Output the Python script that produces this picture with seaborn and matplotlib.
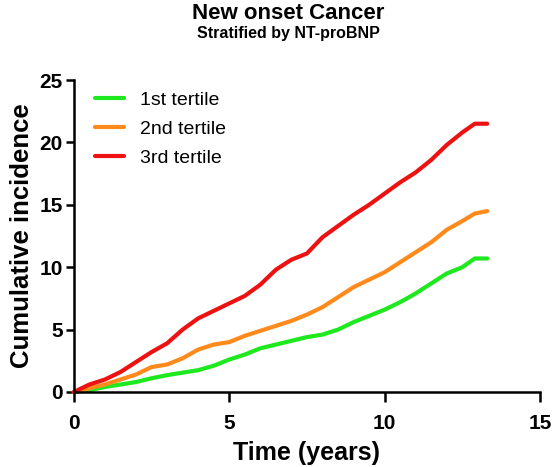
import pandas as pd
import matplotlib.pyplot as plt
import seaborn as sns

# tiempos (años) y incidencia acumulada
tiempo = [0, 0.5, 1, 1.5, 2, 2.5, 3, 3.5, 4, 4.5, 5, 5.5, 6, 6.5, 7, 7.5,
          8, 8.5, 9, 9.5, 10, 10.5, 11, 11.5, 12, 12.5, 12.9, 13.3]
tercil1 = [0, 0.15, 0.4, 0.6, 0.8, 1.1, 1.35, 1.55, 1.75, 2.1, 2.6, 3.0, 3.5, 3.8,
           4.1, 4.4, 4.6, 5.0, 5.6, 6.1, 6.6, 7.2, 7.9, 8.7, 9.5, 10.0, 10.7, 10.7]
tercil2 = [0, 0.3, 0.6, 1.0, 1.4, 2.0, 2.2, 2.7, 3.4, 3.8, 4.0, 4.5, 4.9, 5.3,
           5.7, 6.2, 6.8, 7.6, 8.4, 9.0, 9.6, 10.4, 11.2, 12.0, 13.0, 13.7, 14.3, 14.5]
tercil3 = [0, 0.6, 1.0, 1.6, 2.4, 3.2, 3.9, 5.0, 5.9, 6.5, 7.1, 7.7, 8.6, 9.8,
           10.6, 11.1, 12.4, 13.3, 14.2, 15.0, 15.9, 16.8, 17.6, 18.6, 19.8, 20.8, 21.5, 21.5]
grupos = ["1st tertile", "2nd tertile", "3rd tertile"]
colores = ["#1ee81e", "#ff8a1c", "#ee1111"]

df = pd.concat([
    pd.DataFrame({"Tiempo": tiempo, "Incidencia": vals, "Grupo": g})
    for g, vals in zip(grupos, [tercil1, tercil2, tercil3])
])

sns.set_style("ticks")
plt.rcParams["font.family"] = ["Liberation Sans", "DejaVu Sans"]
plt.rcParams["text.color"] = "black"
plt.rcParams["axes.labelcolor"] = "black"

fig = plt.figure(figsize=(5.55, 4.67), dpi=100)
ax = fig.add_axes([0.133, 0.1606, 0.84, 0.668])
sns.lineplot(data=df, x="Tiempo", y="Incidencia", hue="Grupo",
             palette=colores, linewidth=3, ax=ax, clip_on=False)

ax.set_xlim(0, 15)
ax.set_ylim(0, 25)
ax.set_xticks([0, 5, 10, 15])
ax.set_yticks([0, 5, 10, 15, 20, 25])
sns.despine(ax=ax)
for s in ["left", "bottom"]:
    ax.spines[s].set_linewidth(1.8)
    ax.spines[s].set_color("black")
ax.tick_params(width=1.8, labelsize=15, colors="black")
ax.tick_params(axis="x", length=7.5, pad=8)
ax.tick_params(axis="y", length=6, pad=2)
for lab in ax.get_xticklabels() + ax.get_yticklabels():
    lab.set_fontweight("bold")

ax.set_xlabel("Time (years)", fontsize=18, fontweight="bold", labelpad=6)
ax.set_ylabel("Cumulative incidence", fontsize=18.5, fontweight="bold", labelpad=4)

ax.legend(loc="upper left", bbox_to_anchor=(0.045, 0.965), frameon=False,
          fontsize=14, handlelength=1.5, handletextpad=0.8, labelspacing=0.6,
          borderpad=0, borderaxespad=0)

fig.text(0.519, 0.972, "New onset Cancer", ha="center", va="center",
         fontsize=16, fontweight="bold")
fig.text(0.519, 0.928, "Stratified by NT-proBNP", ha="center", va="center",
         fontsize=11.5, fontweight="bold")

plt.savefig("out.png", dpi=100)
